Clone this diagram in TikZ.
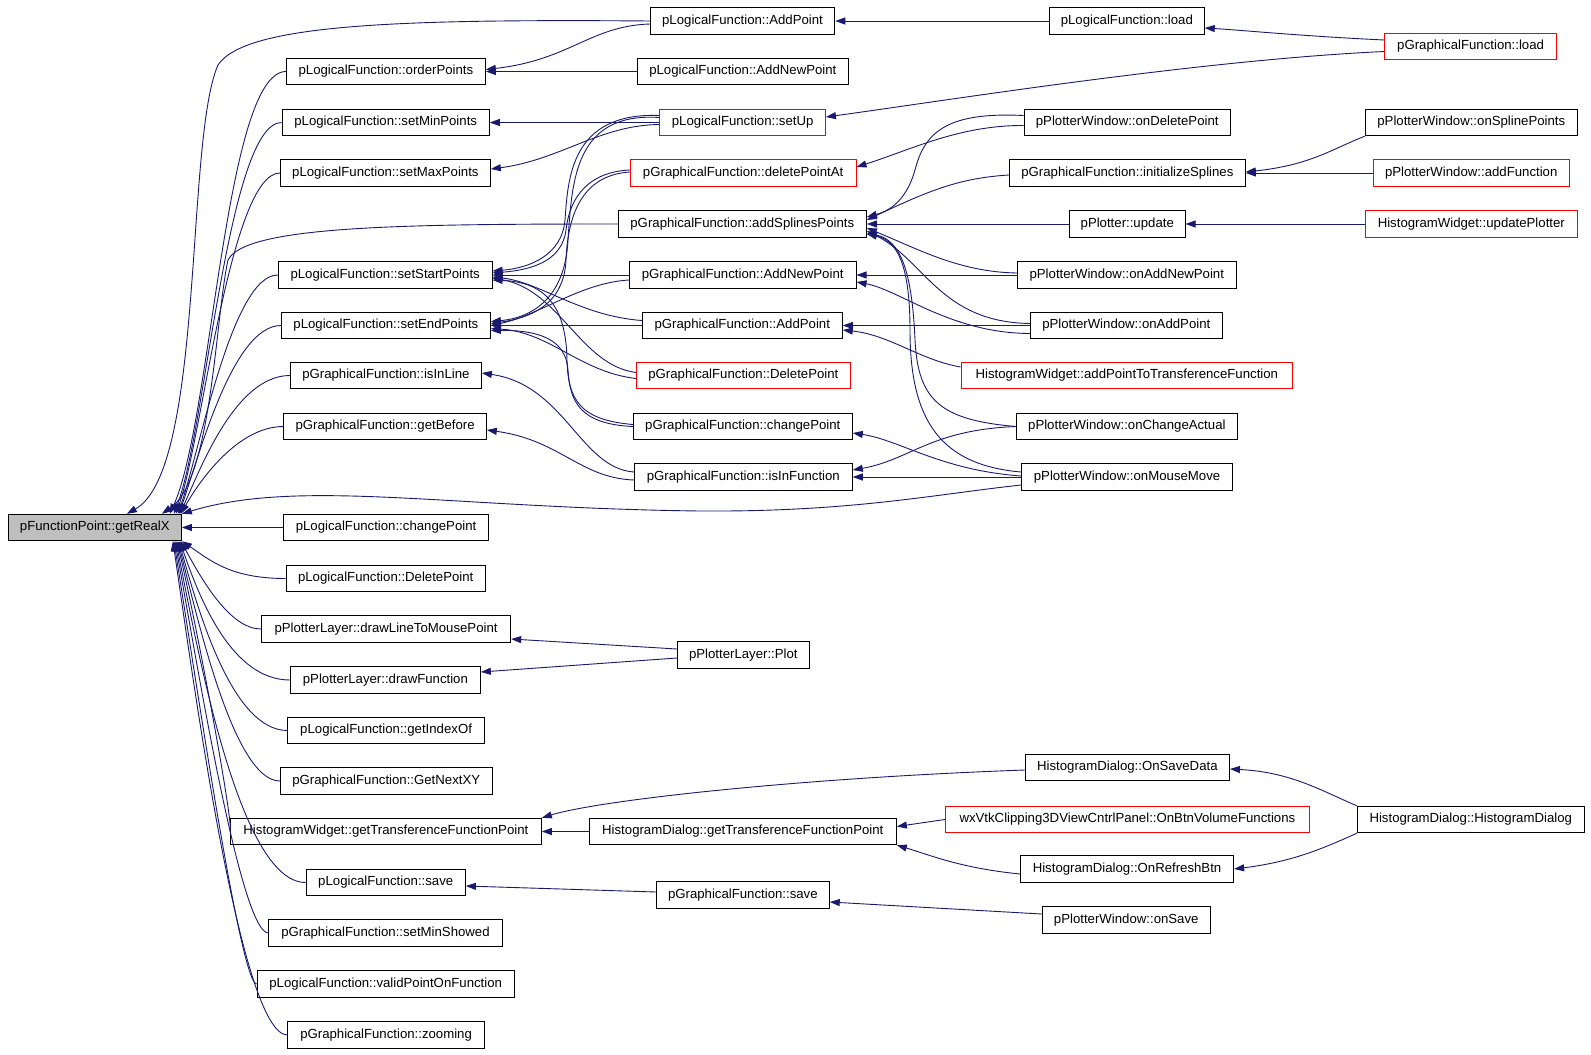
\documentclass[tikz,border=0pt]{standalone}
\usepackage{fontspec}
\setmainfont{Liberation Sans}
\usetikzlibrary{arrows.meta}
\definecolor{edgec}{HTML}{191970}
\definecolor{redc}{HTML}{FF0000}
\definecolor{mainfill}{HTML}{BFBFBF}
\tikzset{
  fbox/.style={draw=black, line width=0.9pt, rectangle, minimum height=26.5pt, inner sep=0pt, font=\fontsize{13.2}{15}\selectfont, fill=white},
  redbox/.style={fbox, draw=redc},
  mainbox/.style={fbox, fill=mainfill},
  cedge/.style={draw=edgec, line width=0.9pt, -{Triangle[length=10pt,width=7pt]}}
}
\begin{document}
\begin{tikzpicture}[x=1pt,y=-1pt]
\useasboundingbox (0,0) rectangle (1591,1055);
% main
\node[mainbox, minimum width=173.2pt] (main) at (94.8,527.5) {pFunctionPoint::getRealX};
% column 1
\node[fbox, minimum width=199pt] (A1) at (385.9,71.5) {pLogicalFunction::orderPoints};
\node[fbox, minimum width=207.2pt] (A2) at (385.7,122.5) {pLogicalFunction::setMinPoints};
\node[fbox, minimum width=210pt] (A3) at (385.4,173) {pLogicalFunction::setMaxPoints};
\node[fbox, minimum width=213.9pt] (A4) at (385.15,275) {pLogicalFunction::setStartPoints};
\node[fbox, minimum width=209pt] (A5) at (385.9,325.5) {pLogicalFunction::setEndPoints};
\node[fbox, minimum width=191pt] (A6) at (385.9,375.5) {pGraphicalFunction::isInLine};
\node[fbox, minimum width=202.5pt] (A7) at (385.15,426.5) {pGraphicalFunction::getBefore};
\node[fbox, minimum width=204.3pt] (A8) at (386.05,527.5) {pLogicalFunction::changePoint};
\node[fbox, minimum width=199.3pt] (A9) at (385.75,578.5) {pLogicalFunction::DeletePoint};
\node[fbox, minimum width=249.3pt] (A10) at (386.05,629) {pPlotterLayer::drawLineToMousePoint};
\node[fbox, minimum width=190pt] (A11) at (385.4,680) {pPlotterLayer::drawFunction};
\node[fbox, minimum width=196.4pt] (A12) at (386.1,730.5) {pLogicalFunction::getIndexOf};
\node[fbox, minimum width=211.7pt] (A13) at (386.25,781) {pGraphicalFunction::GetNextXY};
\node[fbox, minimum width=311pt] (A14) at (385.9,831.5) {HistogramWidget::getTransferenceFunctionPoint};
\node[fbox, minimum width=159.3pt] (A15) at (385.75,882.5) {pLogicalFunction::save};
\node[fbox, minimum width=233.2pt] (A16) at (385.5,933) {pGraphicalFunction::setMinShowed};
\node[fbox, minimum width=257.2pt] (A17) at (385.7,984) {pLogicalFunction::validPointOnFunction};
\node[fbox, minimum width=196.4pt] (A18) at (386.1,1035) {pGraphicalFunction::zooming};
% column 2
\node[fbox, minimum width=184.6pt] (B1) at (742.5,21) {pLogicalFunction::AddPoint};
\node[fbox, minimum width=210.7pt] (B2) at (742.85,71.5) {pLogicalFunction::AddNewPoint};
\node[redbox, minimum width=165.7pt] (B3) at (742.65,122.5) {pLogicalFunction::setUp};
\node[redbox, minimum width=225.9pt] (B4) at (743.15,173) {pGraphicalFunction::deletePointAt};
\node[fbox, minimum width=248.2pt] (B5) at (742.3,224) {pGraphicalFunction::addSplinesPoints};
\node[fbox, minimum width=226.9pt] (B6) at (742.65,275) {pGraphicalFunction::AddNewPoint};
\node[fbox, minimum width=200pt] (B7) at (742.3,325.5) {pGraphicalFunction::AddPoint};
\node[redbox, minimum width=213.9pt] (B8) at (743.35,375.5) {pGraphicalFunction::DeletePoint};
\node[fbox, minimum width=219pt] (B9) at (742.8,426.5) {pGraphicalFunction::changePoint};
\node[fbox, minimum width=217.9pt] (B10) at (743.35,477) {pGraphicalFunction::isInFunction};
\node[fbox, minimum width=131.9pt] (B11) at (743.35,655) {pPlotterLayer::Plot};
\node[fbox, minimum width=307.2pt] (B12) at (742.8,831.5) {HistogramDialog::getTransferenceFunctionPoint};
\node[fbox, minimum width=172.9pt] (B13) at (742.85,895) {pGraphicalFunction::save};
% column 3
\node[fbox, minimum width=154.9pt] (C1) at (1126.85,21) {pLogicalFunction::load};
\node[fbox, minimum width=206.2pt] (C2) at (1127.2,122.5) {pPlotterWindow::onDeletePoint};
\node[fbox, minimum width=236pt] (C3) at (1127.4,173) {pGraphicalFunction::initializeSplines};
\node[fbox, minimum width=115.7pt] (C4) at (1127.25,224) {pPlotter::update};
\node[fbox, minimum width=219pt] (C5) at (1126.8,275) {pPlotterWindow::onAddNewPoint};
\node[fbox, minimum width=192.2pt] (C6) at (1126.3,325.5) {pPlotterWindow::onAddPoint};
\node[redbox, minimum width=331.4pt] (C7) at (1126.8,375.5) {HistogramWidget::addPointToTransferenceFunction};
\node[fbox, minimum width=221.3pt] (C8) at (1126.85,426.5) {pPlotterWindow::onChangeActual};
\node[fbox, minimum width=211.1pt] (C9) at (1127.05,477) {pPlotterWindow::onMouseMove};
\node[fbox, minimum width=204.2pt] (C10) at (1127.4,767.5) {HistogramDialog::OnSaveData};
\node[redbox, minimum width=364.2pt] (C11) at (1127.4,819.5) {wxVtkClipping3DViewCntrlPanel::OnBtnVolumeFunctions};
\node[fbox, minimum width=213.3pt] (C12) at (1127.05,869) {HistogramDialog::OnRefreshBtn};
\node[fbox, minimum width=168.1pt] (C13) at (1126.25,920) {pPlotterWindow::onSave};
% column 4
\node[redbox, minimum width=171.6pt] (D1) at (1470.6,46.5) {pGraphicalFunction::load};
\node[fbox, minimum width=212.2pt] (D2) at (1471.3,122.5) {pPlotterWindow::onSplinePoints};
\node[redbox, minimum width=196pt] (D3) at (1471.2,173) {pPlotterWindow::addFunction};
\node[redbox, minimum width=212.2pt] (D4) at (1471.3,224) {HistogramWidget::updatePlotter};
\node[fbox, minimum width=226.9pt] (D5) at (1470.75,819.5) {HistogramDialog::HistogramDialog};

% ---- edges into getRealX (upper)
\draw[cedge] (B1.west) .. controls (400,19) and (245,24) .. (218,65) .. controls (185,140) and (205,470) .. ([xshift=-55pt]main.north east);
\draw[cedge] (A1.west) .. controls (225,71.5) and (212,420) .. ([xshift=-12pt]main.north east);
\draw[cedge] (A2.west) .. controls (228,122.5) and (206,430) .. ([xshift=-8pt]main.north east);
\draw[cedge] (A3.west) .. controls (230,173) and (202,440) .. ([xshift=-6pt]main.north east);
\draw[cedge] (B5.west) .. controls (400,224) and (245,226) .. (228,260) .. controls (215,320) and (212,480) .. ([xshift=-20pt]main.north east);
\draw[cedge] (A4.west) .. controls (232,275) and (200,450) .. ([xshift=-4pt]main.north east);
\draw[cedge] (A5.west) .. controls (232,325.5) and (198,460) .. ([xshift=-3pt]main.north east);
\draw[cedge] (A6.west) .. controls (235,375.5) and (200,470) .. ([xshift=-2pt]main.north east);
\draw[cedge] (A7.west) .. controls (238,426.5) and (200,480) .. ([xshift=-1pt]main.north east);
\draw[cedge] ([yshift=-8pt]C9.west) .. controls (930,495) and (850,512) .. (700,511) .. controls (450,508) and (300,478) .. (main.north east);
% ---- edges into getRealX (lower)
\draw[cedge] (A8.west) -- (main.east);
\draw[cedge] (A9.west) .. controls (230,578.5) and (210,560) .. (main.south east);
\draw[cedge] (A10.west) .. controls (230,629) and (202,580) .. ([xshift=-1pt]main.south east);
\draw[cedge] (A11.west) .. controls (232,680) and (200,600) .. ([xshift=-2pt]main.south east);
\draw[cedge] (A12.west) .. controls (232,730.5) and (198,610) .. ([xshift=-3pt]main.south east);
\draw[cedge] (A13.west) .. controls (234,781) and (198,620) .. ([xshift=-4pt]main.south east);
\draw[cedge] (A14.west) .. controls (235,831.5) and (198,630) .. ([xshift=-5pt]main.south east);
\draw[cedge] (A15.west) .. controls (238,882.5) and (196,640) .. ([xshift=-6pt]main.south east);
\draw[cedge] (A16.west) .. controls (240,933) and (195,650) .. ([xshift=-7pt]main.south east);
\draw[cedge] (A17.west) .. controls (240,984) and (193,660) .. ([xshift=-8pt]main.south east);
\draw[cedge] (A18.west) .. controls (240,1035) and (192,670) .. ([xshift=-9pt]main.south east);

% ---- column 2 -> column 1
\draw[cedge] ([yshift=-3pt]B1.west) .. controls (590,26) and (570,60) .. ([yshift=2pt]A1.east);
\draw[cedge] (B2.west) -- (A1.east);
\draw[cedge] (B3.west) -- (A2.east);
\draw[cedge] ([yshift=-2pt]B3.west) .. controls (600,125) and (560,160) .. ([yshift=4pt]A3.east);
\draw[cedge] ([yshift=7pt]B3.west) .. controls (570,112) and (568,180) .. (565,220) .. controls (562,255) and (530,268) .. ([yshift=4pt]A4.east);
\draw[cedge] ([yshift=5pt]B3.west) .. controls (575,112) and (572,180) .. (568,240) .. controls (565,300) and (530,318) .. ([yshift=4pt]A5.east);
\draw[cedge] ([yshift=3pt]B4.west) .. controls (590,172) and (570,195) .. (566,230) .. controls (562,262) and (530,270) .. ([yshift=2pt]A4.east);
\draw[cedge] ([yshift=1pt]B4.west) .. controls (585,175) and (568,210) .. (566,260) .. controls (564,305) and (530,318) .. ([yshift=2pt]A5.east);
\draw[cedge] (B6.west) -- (A4.east);
\draw[cedge] ([yshift=-5pt]B6.west) .. controls (580,283) and (540,315) .. (A5.east);
\draw[cedge] (B7.west) -- (A5.east);
\draw[cedge] ([yshift=5pt]B7.west) .. controls (580,316) and (540,282) .. ([yshift=-2pt]A4.east);
\draw[cedge] ([yshift=3pt]B8.west) .. controls (580,365) and (560,290) .. ([yshift=-3pt]A4.east);
\draw[cedge] ([yshift=-3pt]B8.west) .. controls (580,372) and (550,332) .. ([yshift=-3pt]A5.east);
\draw[cedge] ([yshift=2pt]B9.west) .. controls (580,420) and (568,400) .. (567,360) .. controls (566,300) and (540,282) .. ([yshift=-5pt]A4.east);
\draw[cedge] (B9.west) .. controls (578,424) and (570,400) .. (568,370) .. controls (566,340) and (540,330) .. ([yshift=-5pt]A5.east);
\draw[cedge] ([yshift=5pt]B10.west) .. controls (580,468) and (565,385) .. ([yshift=2.5pt]A6.east);
\draw[cedge] ([yshift=-3pt]B10.west) .. controls (580,478) and (560,440) .. ([yshift=-3.5pt]A7.east);
\draw[cedge] ([yshift=6pt]B11.west) -- ([yshift=-10pt]A10.east);
\draw[cedge] ([yshift=-3pt]B11.west) -- ([yshift=8pt]A11.east);
\draw[cedge] (B12.west) -- (A14.east);
\draw[cedge] ([yshift=-2.5pt]C10.west) .. controls (800,778) and (600,800) .. (A14.north east);
\draw[cedge] ([yshift=3pt]B13.west) -- ([yshift=-3.5pt]A15.east);

% ---- column 3 -> column 2
\draw[cedge] (C1.west) -- (B1.east);
\draw[cedge] ([yshift=-3pt]C2.west) .. controls (960,125) and (910,150) .. ([yshift=6pt]B4.east);
\draw[cedge] ([yshift=7pt]C2.west) .. controls (950,112) and (925,130) .. (915,170) .. controls (905,205) and (885,212) .. ([yshift=7pt]B5.east);
\draw[cedge] ([yshift=-2pt]C3.west) .. controls (960,178) and (930,190) .. ([yshift=4pt]B5.east);
\draw[cedge] (C4.west) -- (B5.east);
\draw[cedge] ([yshift=2pt]C5.west) .. controls (960,272) and (920,250) .. ([yshift=-4pt]B5.east);
\draw[cedge] ([yshift=2pt]C6.west) .. controls (940,322) and (925,260) .. ([yshift=-7pt]B5.east);
\draw[cedge] (C8.west) .. controls (940,420) and (918,400) .. (915,340) .. controls (912,270) and (900,240) .. ([yshift=-9pt]B5.east);
\draw[cedge] ([yshift=5pt]C9.west) .. controls (940,465) and (910,420) .. (910,330) .. controls (910,260) and (895,240) .. ([yshift=-10pt]B5.east);
\draw[cedge] (C5.west) -- (B6.east);
\draw[cedge] ([yshift=-8pt]C6.west) .. controls (950,333) and (900,290) .. ([yshift=-7pt]B6.east);
\draw[cedge] (C6.west) -- (B7.east);
\draw[cedge] ([yshift=8.5pt]C7.west) .. controls (920,360) and (890,335) .. ([yshift=-4.5pt]B7.east);
\draw[cedge] ([yshift=1pt]C9.west) .. controls (940,470) and (900,440) .. ([yshift=-6.5pt]B9.east);
\draw[cedge] (C8.west) .. controls (930,430) and (910,460) .. ([yshift=7pt]B10.east);
\draw[cedge] (C9.west) -- (B10.east);
\draw[cedge] (C11.west) -- ([yshift=5pt]B12.east);
\draw[cedge] ([yshift=-5pt]C12.west) .. controls (960,868) and (930,855) .. (B12.south east);
\draw[cedge] ([yshift=6pt]C13.west) -- ([yshift=-7pt]B13.east);
\draw[cedge] ([yshift=-5pt]D1.west) .. controls (1200,60) and (950,100) .. ([yshift=5.5pt]B3.east);

% ---- column 4 -> column 3
\draw[cedge] ([yshift=6.5pt]D1.west) .. controls (1300,36) and (1240,30) .. ([yshift=-7pt]C1.east);
\draw[cedge] (D2.south west) .. controls (1330,150) and (1310,165) .. ([yshift=1pt]C3.east);
\draw[cedge] (D3.west) -- (C3.east);
\draw[cedge] (D4.west) -- (C4.east);
\draw[cedge] (D5.north west) .. controls (1320,790) and (1290,772) .. ([yshift=-1.5pt]C10.east);
\draw[cedge] (D5.south west) .. controls (1320,850) and (1290,862) .. (C12.east);
\end{tikzpicture}
\end{document}
